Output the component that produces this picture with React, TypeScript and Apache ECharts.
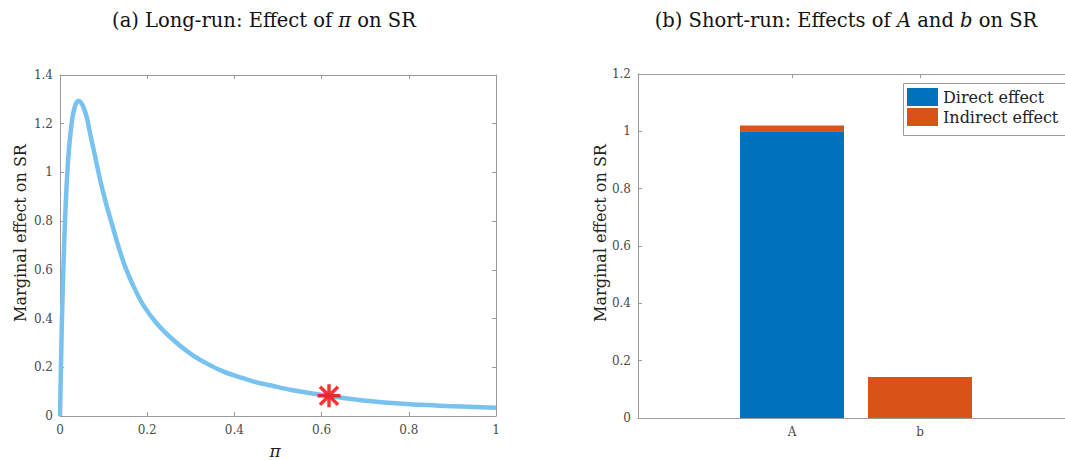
import React, { useEffect, useRef } from "react";
import * as echarts from "echarts";

// Panel (a): long-run marginal effect of pi on SR
const piValues = [0, 0.002, 0.004, 0.006, 0.008, 0.011, 0.015, 0.019, 0.024, 0.03, 0.036, 0.042, 0.048, 0.055, 0.062, 0.069, 0.08, 0.092, 0.106, 0.122, 0.135, 0.15, 0.168, 0.191, 0.222, 0.26, 0.298, 0.336, 0.375, 0.413, 0.451, 0.489, 0.528, 0.617, 0.696, 0.795, 0.887, 1.0];
const effectValues = [0, 0.18, 0.36, 0.5, 0.62, 0.78, 0.94, 1.06, 1.16, 1.24, 1.28, 1.293, 1.287, 1.262, 1.222, 1.16, 1.07, 0.97, 0.87, 0.77, 0.69, 0.61, 0.535, 0.455, 0.38, 0.312, 0.257, 0.216, 0.182, 0.159, 0.138, 0.123, 0.108, 0.082, 0.064, 0.049, 0.041, 0.034];
const starPoint = [0.617, 0.083];

// Panel (b): short-run effects
const barCategories = ["A", "b"];
const directEffect = [1.0, 0];
const indirectEffect = [0.02, 0.143];

const FONT = "DejaVu Serif";
const AXIS_COLOR = "#9a9a9a";
const LABEL_COLOR = "#4a4a4a";

const asteriskPath =
  "path://M0 8.5H20V11.5H0Z M8.5 0H11.5V20H8.5Z M1.1 3.2L3.2 1.1L18.9 16.8L16.8 18.9Z M16.8 1.1L18.9 3.2L3.2 18.9L1.1 16.8Z";

function axisBase(extra: any) {
  return {
    axisLine: { show: true, onZero: false, lineStyle: { color: AXIS_COLOR, width: 1 } },
    axisTick: { show: true, inside: true, length: 4, lineStyle: { color: AXIS_COLOR } },
    splitLine: { show: false },
    axisLabel: { show: false },
    ...extra,
  };
}

export default function App() {
  const ref = useRef<HTMLDivElement>(null);
  useEffect(() => {
    if (!ref.current) return;
    const chart = echarts.init(ref.current, undefined, { renderer: "svg" });
    const labelStyle = { show: true, color: LABEL_COLOR, fontFamily: FONT, fontSize: 12 };
    const option: any = {
      animation: false,
      backgroundColor: "#ffffff",
      grid: [
        { left: 60, top: 75, width: 436, height: 341 },
        { left: 638, top: 74, width: 436, height: 344 },
        { left: 728, top: 74, width: 256, height: 344 },
      ],
      xAxis: [
        axisBase({ gridIndex: 0, type: "value", min: 0, max: 1, interval: 0.2, position: "bottom", axisLabel: { ...labelStyle, margin: 8 } }),
        axisBase({ gridIndex: 0, type: "value", min: 0, max: 1, interval: 0.2, position: "top" }),
        axisBase({ gridIndex: 1, type: "value", min: 0, max: 1, position: "bottom", axisTick: { show: false } }),
        axisBase({ gridIndex: 1, type: "value", min: 0, max: 1, position: "top", axisTick: { show: false } }),
        {
          gridIndex: 2, type: "category", data: barCategories, position: "bottom",
          axisLine: { show: false },
          axisTick: { show: true, inside: true, length: 4, alignWithLabel: true, lineStyle: { color: AXIS_COLOR } },
          axisLabel: { ...labelStyle, margin: 8 },
          splitLine: { show: false },
        },
        {
          gridIndex: 2, type: "category", data: barCategories, position: "top",
          axisLine: { show: false },
          axisTick: { show: true, inside: true, length: 4, alignWithLabel: true, lineStyle: { color: AXIS_COLOR } },
          axisLabel: { show: false },
          splitLine: { show: false },
        },
      ],
      yAxis: [
        axisBase({ gridIndex: 0, type: "value", min: 0, max: 1.4, interval: 0.2, position: "left", axisLabel: { ...labelStyle, margin: 7 } }),
        axisBase({ gridIndex: 0, type: "value", min: 0, max: 1.4, interval: 0.2, position: "right" }),
        axisBase({ gridIndex: 1, type: "value", min: 0, max: 1.2, interval: 0.2, position: "left", axisLabel: { ...labelStyle, margin: 7 } }),
        { gridIndex: 2, type: "value", min: 0, max: 1.2, show: false },
      ],
      legend: {
        data: ["Direct effect", "Indirect effect"],
        orient: "vertical",
        left: 903,
        top: 83,
        padding: [5, 4, 12, 4],
        itemGap: 2,
        itemWidth: 31,
        itemHeight: 18,
        borderWidth: 0,
        z: 6,
        icon: "rect",
        textStyle: { fontFamily: FONT, fontSize: 16, color: "#222" },
      },
      series: [
        {
          type: "line",
          xAxisIndex: 0,
          yAxisIndex: 0,
          data: piValues.map((x, i) => [x, effectValues[i]]),
          showSymbol: false,
          smooth: 0.3,
          lineStyle: { color: "#78c2ef", width: 4.5 },
          z: 2,
        },
        {
          type: "scatter",
          xAxisIndex: 0,
          yAxisIndex: 0,
          data: [starPoint],
          symbol: asteriskPath,
          symbolSize: 23,
          itemStyle: { color: "#ff0000" },
          z: 5,
        },
        {
          name: "Direct effect",
          type: "bar",
          xAxisIndex: 4,
          yAxisIndex: 3,
          stack: "total",
          barWidth: 104,
          data: directEffect,
          itemStyle: { color: "#0072BD" },
        },
        {
          name: "Indirect effect",
          type: "bar",
          xAxisIndex: 4,
          yAxisIndex: 3,
          stack: "total",
          barWidth: 104,
          data: indirectEffect,
          itemStyle: { color: "#D95319" },
        },
      ],
      graphic: [
        {
          type: "rect", z: 3, shape: { x: 903.5, y: 83.5, width: 200, height: 52 },
          style: { fill: "#ffffff", stroke: "#9a9a9a", lineWidth: 1 },
        },
        {
          type: "text", x: 264, y: 20,
          style: {
            text: "(a) Long-run: Effect of {i|π} on SR",
            textAlign: "center", textVerticalAlign: "middle",
            fontFamily: FONT, fontSize: 19.5, fill: "#111",
            rich: { i: { fontStyle: "italic", fontFamily: FONT, fontSize: 19.5, fill: "#111" } },
          },
        },
        {
          type: "text", x: 846, y: 20,
          style: {
            text: "(b) Short-run: Effects of {i|A} and {i|b} on SR",
            textAlign: "center", textVerticalAlign: "middle",
            fontFamily: FONT, fontSize: 19.5, fill: "#111",
            rich: { i: { fontStyle: "italic", fontFamily: FONT, fontSize: 19.5, fill: "#111" } },
          },
        },
        {
          type: "text", x: 20, y: 233, rotation: Math.PI / 2,
          style: { text: "Marginal effect on SR", textAlign: "center", textVerticalAlign: "middle", fontFamily: FONT, fontSize: 16, fill: "#222" },
        },
        {
          type: "text", x: 600, y: 233, rotation: Math.PI / 2,
          style: { text: "Marginal effect on SR", textAlign: "center", textVerticalAlign: "middle", fontFamily: FONT, fontSize: 16, fill: "#222" },
        },
        {
          type: "text", x: 275, y: 451,
          style: { text: "π", textAlign: "center", textVerticalAlign: "middle", fontFamily: FONT, fontStyle: "italic", fontSize: 17, fill: "#222" },
        },
      ],
    };
    chart.setOption(option);
    return () => chart.dispose();
  }, []);
  return <div ref={ref} style={{ position: "fixed", left: 0, top: 0, width: 1065, height: 460 }} />;
}
